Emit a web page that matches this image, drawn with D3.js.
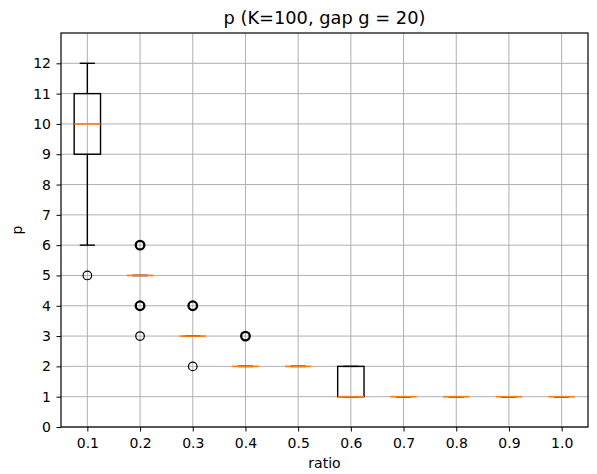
<!DOCTYPE html>
<html><head><meta charset="utf-8">
<script src="https://cdn.jsdelivr.net/npm/d3@7"></script>
<style>body{margin:0;background:#fff}svg{display:block;font-family:"DejaVu Sans",sans-serif}</style>
</head><body>
<svg id="c" width="597" height="474"></svg>
<script>
const categories = ["0.1","0.2","0.3","0.4","0.5","0.6","0.7","0.8","0.9","1.0"];
const q1 =        [9, 5, 3, 2, 2, 1, 1, 1, 1, 1];
const medians =   [10,5, 3, 2, 2, 1, 1, 1, 1, 1];
const q3 =        [11,5, 3, 2, 2, 2, 1, 1, 1, 1];
const whiskLo =   [6, 5, 3, 2, 2, 1, 1, 1, 1, 1];
const whiskHi =   [12,5, 3, 2, 2, 2, 1, 1, 1, 1];
const outliers = [[5],[6,6,4,4,3],[4,4,2],[3,3],[],[],[],[],[],[]];
const yTicks = [0,1,2,3,4,5,6,7,8,9,10,11,12];
const title = "p (K=100, gap g = 20)";
const xLabel = "ratio", yLabel = "p";

const svg = d3.select("#c");
const L = 61, R = 588, T = 33, B = 427;
const x = d3.scaleLinear().domain([0.5, categories.length + 0.5]).range([L, R]);
const y = d3.scaleLinear().domain([0, 13]).range([B, T]);
const bw = x(1.25) - x(1);

// grid
const g = svg.append("g");
g.selectAll(".gx").data(categories).enter().append("line")
  .attr("x1",(d,i)=>x(i+1)).attr("x2",(d,i)=>x(i+1)).attr("y1",T).attr("y2",B)
  .attr("stroke","#b0b0b0").attr("stroke-width",1);
g.selectAll(".gy").data(yTicks).enter().append("line")
  .attr("x1",L).attr("x2",R).attr("y1",d=>y(d)).attr("y2",d=>y(d))
  .attr("stroke","#b0b0b0").attr("stroke-width",1);

// boxes
const bx = svg.append("g");
categories.forEach((c,i)=>{
  const cx = x(i+1);
  bx.append("line").attr("x1",cx).attr("x2",cx).attr("y1",y(q1[i])).attr("y2",y(whiskLo[i])).attr("stroke","#000").attr("stroke-width",1.4);
  bx.append("line").attr("x1",cx).attr("x2",cx).attr("y1",y(q3[i])).attr("y2",y(whiskHi[i])).attr("stroke","#000").attr("stroke-width",1.4);
  [whiskLo[i], whiskHi[i]].forEach(v=>{
    bx.append("line").attr("x1",cx-bw/2-1).attr("x2",cx+bw/2+1).attr("y1",y(v)).attr("y2",y(v)).attr("stroke","#000").attr("stroke-width",1.4);
  });
  bx.append("rect").attr("x",x(i+0.75)).attr("width",x(i+1.25)-x(i+0.75))
    .attr("y",y(q3[i])).attr("height",y(q1[i])-y(q3[i]))
    .attr("fill","none").attr("stroke","#000").attr("stroke-width",1.4);
  bx.append("line").attr("x1",x(i+0.75)).attr("x2",x(i+1.25)).attr("y1",y(medians[i])).attr("y2",y(medians[i]))
    .attr("stroke","#ff7f0e").attr("stroke-width",1.7);
  const counts = d3.rollup(outliers[i], v=>v.length, d=>d);
  counts.forEach((n,v)=>{
    bx.append("circle").attr("cx",cx).attr("cy",y(v)).attr("r",4.3)
      .attr("fill","none").attr("stroke","#000").attr("stroke-width", n>1?2.3:1.2);
  });
});

// axes
const xa = svg.append("g").attr("transform",`translate(0,${B})`)
  .call(d3.axisBottom(x).tickValues(d3.range(1,categories.length+1)).tickFormat(d=>categories[d-1]).tickSizeOuter(0).tickSize(4.5).tickPadding(7));
const ya = svg.append("g").attr("transform",`translate(${L},0)`)
  .call(d3.axisLeft(y).tickValues(yTicks).tickSizeOuter(0).tickSize(4.5).tickPadding(5.5));
[xa,ya].forEach(a=>{
  a.select(".domain").remove();
  a.selectAll("text").attr("font-size",14).attr("fill","#000").attr("font-family","DejaVu Sans");
  a.selectAll("line").attr("stroke","#000").attr("stroke-width",1);
});
svg.append("rect").attr("x",L).attr("y",T).attr("width",R-L).attr("height",B-T)
  .attr("fill","none").attr("stroke","#000").attr("stroke-width",1.2);

svg.append("text").attr("x",(L+R)/2).attr("y",24).attr("text-anchor","middle")
  .attr("font-size",17.8).text(title);
svg.append("text").attr("x",(L+R)/2).attr("y",468).attr("text-anchor","middle")
  .attr("font-size",14).text(xLabel);
svg.append("text").attr("transform",`translate(22,${(T+B)/2}) rotate(-90)`).attr("text-anchor","middle")
  .attr("font-size",14).text(yLabel);
</script>
</body></html>
